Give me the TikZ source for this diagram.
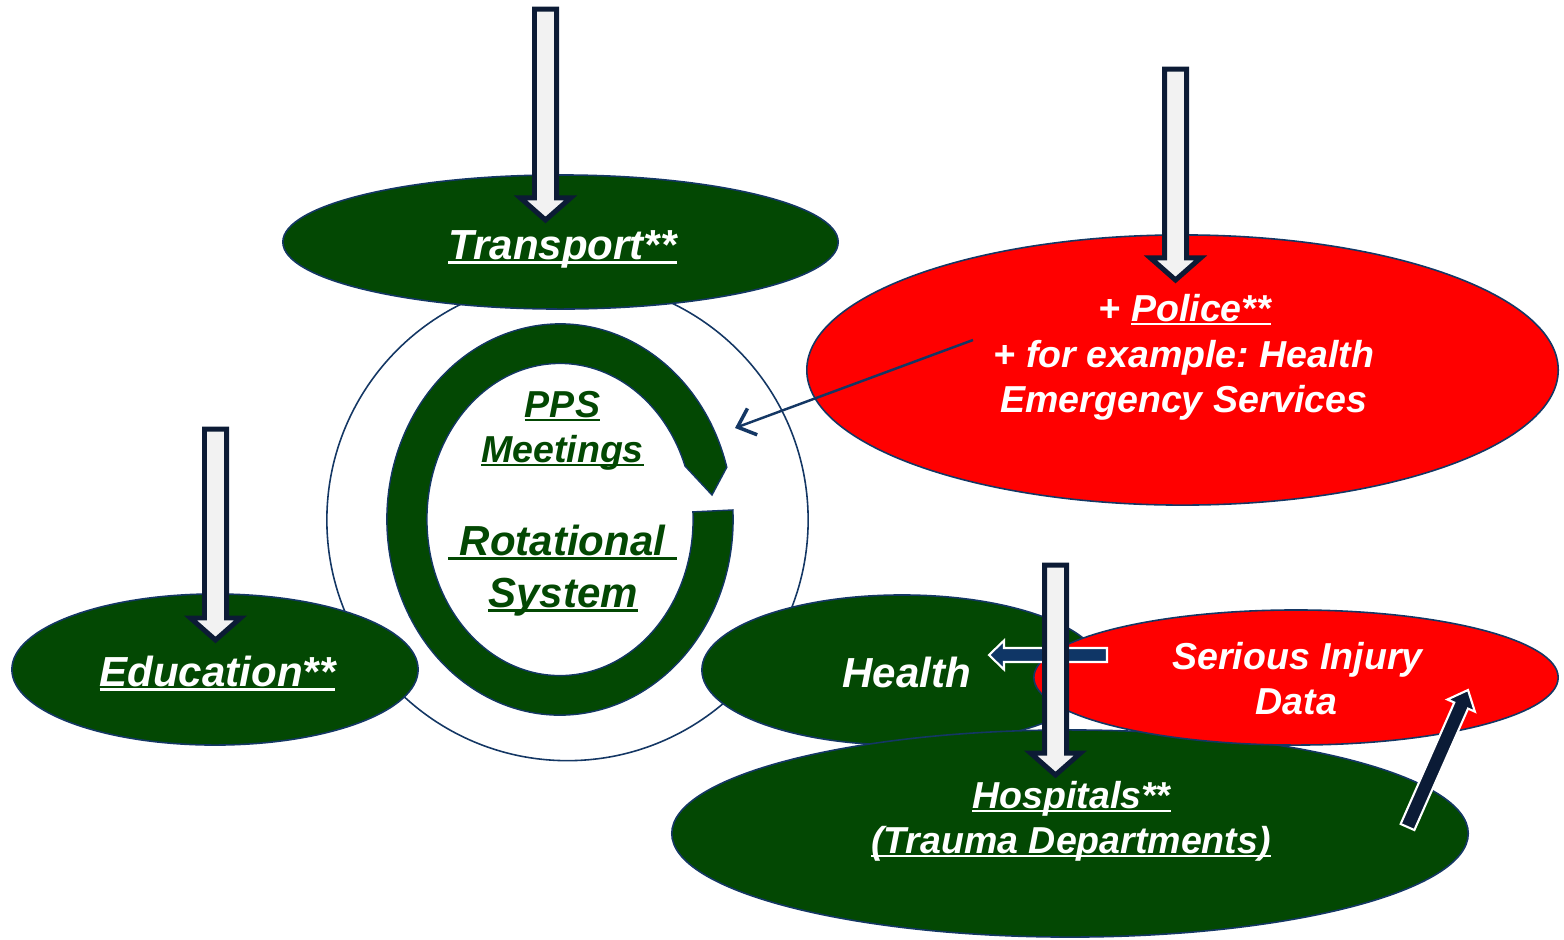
\documentclass[tikz,border=0pt]{standalone}
\usepackage{fontspec}
\setmainfont{Liberation Sans}
\usetikzlibrary{calc,arrows.meta,shapes.geometric}
\definecolor{dgreen}{RGB}{3,72,3}
\definecolor{navyline}{RGB}{20,55,100}
\definecolor{arrowedge}{RGB}{12,27,53}
\definecolor{arrowfill}{RGB}{242,242,242}
\definecolor{bluefill}{RGB}{15,54,102}
\definecolor{darkfill}{RGB}{11,27,54}
\frenchspacing
\newcommand\myul[1]{\setbox0=\hbox{#1}\rlap{\rule[-0.11em]{\wd0}{0.065em}}\box0}
% #1 style, #2 tail, #3 tip, #4 half shaft, #5 half head, #6 head length
\newcommand\fatarrow[6]{%
  \coordinate (fb) at ($(#3)!#6!(#2)$);
  \draw[#1] ($(#2)!#4!90:(#3)$) -- ($(fb)!#4!90:(#3)$) -- ($(fb)!#5!90:(#3)$) -- (#3)
    -- ($(fb)!#5!-90:(#3)$) -- ($(fb)!#4!-90:(#3)$) -- ($(#2)!#4!-90:(#3)$) -- cycle;}
\begin{document}
\begin{tikzpicture}[x=0.01cm,y=0.01cm,
  ell/.style={ellipse,draw=navyline,line width=0.45pt,inner sep=0pt},
  greenell/.style={ell,fill=dgreen},
  redell/.style={ell,fill=red},
  bigfont/.style={font=\bfseries\itshape\fontsize{11.95pt}{14pt}\selectfont},
  midfont/.style={font=\bfseries\itshape\fontsize{10.67pt}{13pt}\selectfont},
  wtxt/.style={text=white,anchor=base,inner sep=0pt},
  gtxt/.style={text=dgreen,anchor=base,inner sep=0pt},
  whitearrow/.style={fill=arrowfill,draw=arrowedge,line width=1.42pt,miter limit=10},
  bluearrow/.style={fill=bluefill,draw=white,line width=0.6pt,miter limit=10},
  darkarrow/.style={fill=darkfill,draw=white,line width=0.6pt,miter limit=10},
  thinarrow/.style={draw=navyline,line width=0.7pt,-{Straight Barb[length=4.5pt,width=8pt,line width=1pt]}}
]
\useasboundingbox (0,0) rectangle (1564,-939);

% big circle
\node[circle,draw=navyline,line width=0.45pt,minimum size=4.81cm,inner sep=0pt] (bigc) at (567.5,-520) {};

% rotating ring
\coordinate (ringc) at (560,-519.5);
\coordinate (ringtip) at (712,-495);
\filldraw[fill=dgreen,draw=navyline,line width=0.4pt]
  ($(ringc)+(15.5:1.73cm and 1.955cm)$)
  arc[start angle=15.5,end angle=362.8,x radius=1.73cm,y radius=1.955cm]
  -- ($(ringc)+(362.8:1.33cm and 1.56cm)$)
  arc[start angle=362.8,end angle=20,x radius=1.33cm,y radius=1.56cm]
  -- (ringtip) -- cycle;

% ellipses
\node[greenell,minimum width=5.55cm,minimum height=1.34cm] (transport) at (560.5,-242) {};
\node[greenell,minimum width=4.06cm,minimum height=1.51cm] (education) at (215,-669.5) {};
\node[greenell,minimum width=4.00cm,minimum height=1.50cm] (health) at (902,-670) {};
\node[greenell,minimum width=7.96cm,minimum height=2.07cm] (hospitals) at (1070,-833.5) {};
\node[redell,minimum width=5.24cm,minimum height=1.35cm] (sid) at (1296,-677.5) {};
\node[redell,minimum width=7.51cm,minimum height=2.70cm] (police) at (1182.5,-370) {};

% block arrows
\coordinate (trT) at (545.5,-9);    \coordinate (trH) at (545.5,-220);
\coordinate (poT) at (1175.5,-69);  \coordinate (poH) at (1175.5,-280);
\coordinate (edT) at (215.5,-429);  \coordinate (edH) at (215.5,-640);
\coordinate (hoT) at (1055.5,-565); \coordinate (hoH) at (1055.5,-775);
\coordinate (blT) at (1107,-655);   \coordinate (blH) at (989,-655);
\coordinate (dkT) at (1407.5,-827); \coordinate (dkH) at (1468,-690);

\fatarrow{whitearrow}{trT}{trH}{0.11cm}{0.25cm}{0.22cm}
\fatarrow{whitearrow}{poT}{poH}{0.11cm}{0.25cm}{0.22cm}
\fatarrow{whitearrow}{edT}{edH}{0.11cm}{0.25cm}{0.22cm}
\fatarrow{bluearrow}{blT}{blH}{0.07cm}{0.145cm}{0.15cm}
\fatarrow{whitearrow}{hoT}{hoH}{0.11cm}{0.25cm}{0.22cm}
\fatarrow{darkarrow}{dkT}{dkH}{0.075cm}{0.15cm}{0.17cm}

% thin arrow
\coordinate (thA) at (973,-340);
\coordinate (thB) at (735,-428);
\draw[thinarrow] (thA) -- (thB);

% texts
\node[wtxt,bigfont] (t1) at (562.5,-259) {\myul{Transport**}};
\node[wtxt,bigfont] (t2) at (217.5,-686) {\myul{Education**}};
\node[wtxt,bigfont] (t3) at (906.5,-687) {Health};
\node[wtxt,midfont] (t4) at (1185,-321) {+ \myul{Police**}};
\node[wtxt,midfont] (t5) at (1184,-367) {+ for example: Health};
\node[wtxt,midfont] (t6) at (1184,-412) {Emergency Services};
\node[gtxt,midfont] (t7) at (562.5,-417) {\myul{PPS}};
\node[gtxt,midfont] (t8) at (562.5,-462) {\myul{Meetings}};
\node[gtxt,bigfont] (t9) at (562.5,-555) {\myul{\ Rotational\ }};
\node[gtxt,bigfont] (t10) at (563,-607) {\myul{System}};
\node[wtxt,midfont] (t11) at (1297.5,-669) {Serious Injury};
\node[wtxt,midfont] (t12) at (1296.5,-714) {Data};
\node[wtxt,midfont] (t13) at (1071.5,-808) {\myul{Hospitals**}};
\node[wtxt,midfont] (t14) at (1071,-853) {\myul{(Trauma Departments)}};
\end{tikzpicture}
\end{document}
